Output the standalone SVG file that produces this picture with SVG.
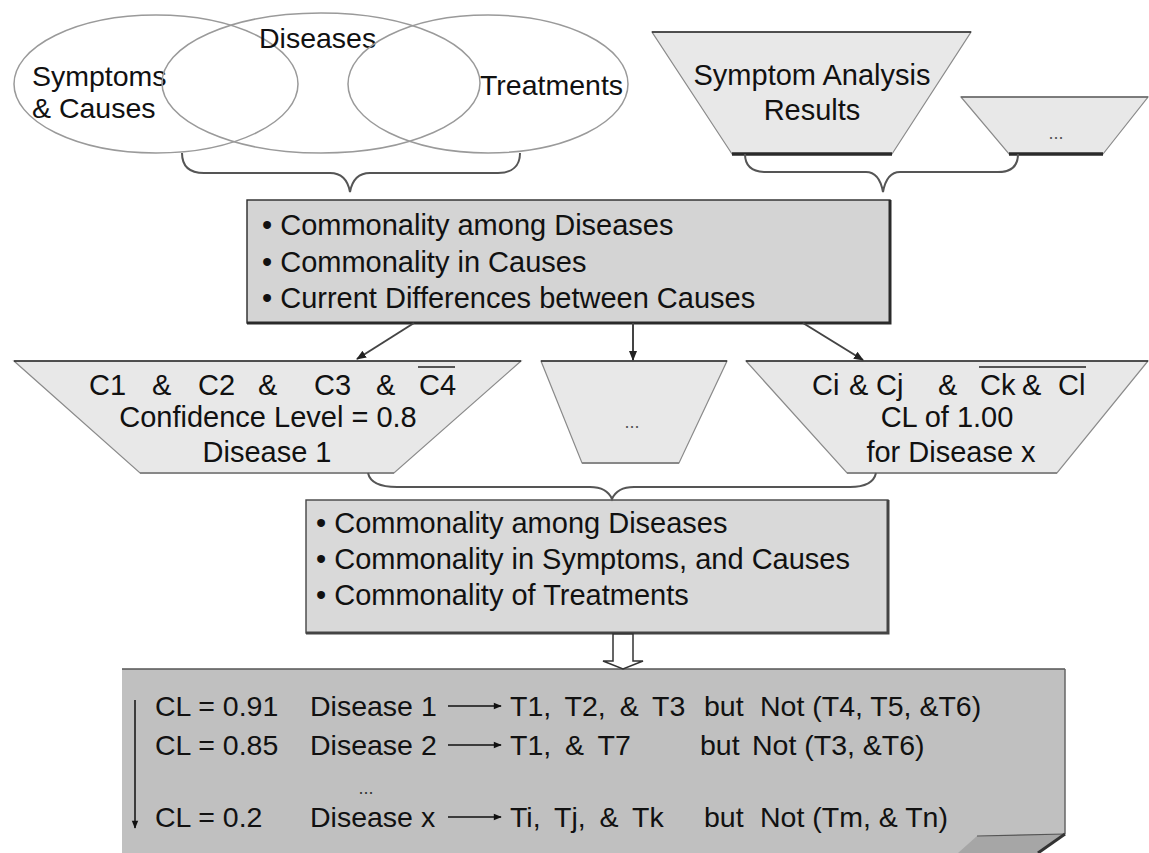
<svg xmlns="http://www.w3.org/2000/svg" width="1149" height="853" viewBox="0 0 1149 853">
<defs>
  <marker id="head" viewBox="0 0 10 10" refX="9" refY="5" markerWidth="10" markerHeight="10" markerUnits="userSpaceOnUse" orient="auto">
    <path d="M0,1 L10,5 L0,9 Z" fill="#222"/>
  </marker>
  <marker id="headSmall" viewBox="0 0 10 10" refX="9" refY="5" markerWidth="9" markerHeight="8" markerUnits="userSpaceOnUse" orient="auto">
    <path d="M0,1 L10,5 L0,9 Z" fill="#111"/>
  </marker>
  <style>
    text { font-family: "Liberation Sans", Arial, sans-serif; fill: #111; }
    .lbl { font-size: 28.5px; }
    .big { font-size: 29px; }
    .row { font-size: 28.5px; }
    .tl { word-spacing: 6px; }
    .mid { text-anchor: middle; }
    .dots { font-size: 18px; fill: #555; }
    .venn { fill: none; stroke: #9a9a9a; stroke-width: 1.5; }
    .trap { fill: #e8e8e8; stroke: #8a8a8a; stroke-width: 1.2; }
    .edge { stroke: #2a2a2a; stroke-width: 1.6; }
    .shadow { stroke: #2a2a2a; stroke-width: 3.5; }
    .brace { fill: none; stroke: #555; stroke-width: 2; }
    .conn { fill: none; stroke: #444; stroke-width: 2; }
    .thin { fill: none; stroke: #111; stroke-width: 1.5; }
  </style>
</defs>

<rect x="0" y="0" width="1149" height="853" fill="#ffffff"/>

<!-- Venn diagram of the three knowledge sets -->
<g id="symptoms-causes">
  <ellipse class="venn" cx="156" cy="84" rx="142" ry="69"/>
  <text class="lbl" x="32" y="86">Symptoms</text>
  <text class="lbl" x="32" y="118">&amp; Causes</text>
</g>
<g id="diseases">
  <ellipse class="venn" cx="321" cy="83" rx="159" ry="70"/>
  <text class="lbl" x="259" y="48">Diseases</text>
</g>
<g id="treatments">
  <ellipse class="venn" cx="488" cy="84" rx="140" ry="69"/>
  <text class="lbl" x="480" y="95">Treatments</text>
</g>

<!-- Analysis inputs -->
<g id="symptom-analysis">
  <polygon class="trap" points="652,32 971,32 892,154 732,154"/>
  <line class="edge" x1="652" y1="32" x2="971" y2="32"/>
  <line class="shadow" x1="732" y1="154" x2="892" y2="154"/>
  <text class="big mid" x="812" y="85">Symptom Analysis</text>
  <text class="big mid" x="812" y="120">Results</text>
</g>
<g id="analysis-more">
  <polygon class="trap" points="961,97 1148,97 1103,154 1009,154"/>
  <line x1="961" y1="97" x2="1148" y2="97" stroke="#666" stroke-width="1.4"/>
  <line class="shadow" x1="1009" y1="154" x2="1103" y2="154"/>
  <text class="dots mid" x="1056" y="139">...</text>
</g>

<!-- First commonality analysis -->
<g id="commonality-causes">
  <rect x="247" y="200" width="643" height="123" fill="#d4d4d4" stroke="#2a2a2a" stroke-width="1.4"/>
  <polyline points="247,323 890,323 890,200" fill="none" stroke="#2a2a2a" stroke-width="3"/>
  <text class="big" x="262" y="235">• Commonality among Diseases</text>
  <text class="big" x="262" y="272">• Commonality in Causes</text>
  <text class="big" x="262" y="308">• Current Differences between Causes</text>
</g>

<!-- Candidate rules -->
<g id="rule-disease-1">
  <polygon class="trap" points="14,361 521,361 394,473 140,473"/>
  <line class="edge" x1="14" y1="361" x2="521" y2="361"/>
  <line x1="140" y1="473" x2="394" y2="473" stroke="#888" stroke-width="2.2"/>
  <text class="big" x="89" y="395">C1</text>
  <text class="big" x="152" y="395">&amp;</text>
  <text class="big" x="198" y="395">C2</text>
  <text class="big" x="258" y="395">&amp;</text>
  <text class="big" x="314" y="395">C3</text>
  <text class="big" x="376" y="395">&amp;</text>
  <text class="big" x="419" y="395">C4</text>
  <line x1="418" y1="367" x2="455" y2="367" stroke="#222" stroke-width="1.6"/>
  <text class="big mid" x="268" y="427">Confidence Level = 0.8</text>
  <text class="big mid" x="267" y="462">Disease 1</text>
</g>
<g id="rule-more">
  <polygon class="trap" points="541,361 727,361 679,463 582,463"/>
  <line class="edge" x1="541" y1="361" x2="727" y2="361"/>
  <line x1="582" y1="463" x2="679" y2="463" stroke="#888" stroke-width="2.2"/>
  <text class="dots mid" x="632" y="428">...</text>
</g>
<g id="rule-disease-x">
  <polygon class="trap" points="746,361 1148,361 1057,473 847,473"/>
  <line class="edge" x1="746" y1="361" x2="1148" y2="361"/>
  <line x1="847" y1="473" x2="1057" y2="473" stroke="#888" stroke-width="2.2"/>
  <text class="big" x="812" y="395">Ci</text>
  <text class="big" x="849" y="395">&amp;</text>
  <text class="big" x="876" y="395">Cj</text>
  <text class="big" x="938" y="395">&amp;</text>
  <text class="big" x="980" y="395">Ck</text>
  <text class="big" x="1022" y="395">&amp;</text>
  <text class="big" x="1058" y="395">Cl</text>
  <line x1="979" y1="367" x2="1086" y2="367" stroke="#222" stroke-width="1.6"/>
  <text class="big mid" x="947" y="427">CL of 1.00</text>
  <text class="big mid" x="951" y="462">for Disease x</text>
</g>

<!-- Second commonality analysis -->
<g id="commonality-treatments">
  <rect x="306" y="500" width="582" height="133" fill="#d9d9d9" stroke="#444" stroke-width="1.4"/>
  <polyline points="306,633 888,633 888,500" fill="none" stroke="#444" stroke-width="3"/>
  <text class="big" x="316" y="533">• Commonality among Diseases</text>
  <text class="big" x="316" y="569">• Commonality in Symptoms, and Causes</text>
  <text class="big" x="316" y="605">• Commonality of Treatments</text>
</g>

<!-- Ranked treatment recommendations -->
<g id="ranked-treatments">
  <path d="M122,669 H1065 V834 L1038,853 H122 Z" fill="#c0c0c0"/>
  <line x1="122" y1="669" x2="1065" y2="669" stroke="#555" stroke-width="1.5"/>
  <line x1="1065" y1="669" x2="1065" y2="834" stroke="#666" stroke-width="1.5"/>
  <polygon points="977,836 1065,834 1038,853 958,853" fill="#a6a6a6"/>
  <line x1="977" y1="836" x2="1065" y2="834" stroke="#555" stroke-width="1.2"/>
  <line x1="1065" y1="834" x2="1038" y2="853" stroke="#333" stroke-width="3"/>
  <line class="thin" x1="135" y1="700" x2="135" y2="828" marker-end="url(#headSmall)"/>

  <text class="row" x="155" y="716">CL = 0.91</text>
  <text class="row" x="310" y="716">Disease 1</text>
  <line class="thin" x1="448" y1="706" x2="501" y2="706" marker-end="url(#headSmall)"/>
  <text class="row tl" x="510" y="716">T1, T2, &amp; T3</text>
  <text class="row" x="704" y="716">but</text>
  <text class="row" x="760" y="716">Not (T4, T5, &amp;T6)</text>

  <text class="row" x="155" y="755">CL = 0.85</text>
  <text class="row" x="310" y="755">Disease 2</text>
  <line class="thin" x1="448" y1="745" x2="501" y2="745" marker-end="url(#headSmall)"/>
  <text class="row tl" x="510" y="755">T1, &amp; T7</text>
  <text class="row" x="700" y="755">but</text>
  <text class="row" x="752" y="755">Not (T3, &amp;T6)</text>

  <text class="dots mid" x="366" y="794" style="fill:#333">...</text>

  <text class="row" x="155" y="827">CL = 0.2</text>
  <text class="row" x="310" y="827">Disease x</text>
  <line class="thin" x1="448" y1="817" x2="501" y2="817" marker-end="url(#headSmall)"/>
  <text class="row tl" x="510" y="827">Ti, Tj, &amp; Tk</text>
  <text class="row" x="704" y="827">but</text>
  <text class="row" x="760" y="827">Not (Tm, &amp; Tn)</text>
</g>

<!-- Connectors: braces, arrows -->
<g id="connectors">
  <path class="brace" d="M182,153 C182,166 189,173 204,173 L330,173 C342,173 348,181 350,192 C352,181 358,173 370,173 L498,173 C512,173 520,166 520,153"/>
  <path class="brace" d="M745,154 C745,166 752,172 766,172 L866,172 C876,172 881,181 883,192 C885,181 890,172 900,172 L998,172 C1011,172 1018,166 1018,154"/>
  <line class="conn" x1="414" y1="323" x2="357" y2="359" marker-end="url(#head)"/>
  <line class="conn" x1="633" y1="323" x2="633" y2="360" marker-end="url(#head)"/>
  <line class="conn" x1="803" y1="323" x2="863" y2="360" marker-end="url(#head)"/>
  <path class="brace" d="M368,473 C370,482 380,487 397,487 L590,487 C602,487 609,492 612,499 C615,492 622,487 634,487 L850,487 C866,487 874,482 876,473"/>
  <polygon points="613,634 633,634 633,661 643,661 623,669 603,661 613,661" fill="#ffffff" stroke="#333" stroke-width="1.5"/>
</g>
</svg>
